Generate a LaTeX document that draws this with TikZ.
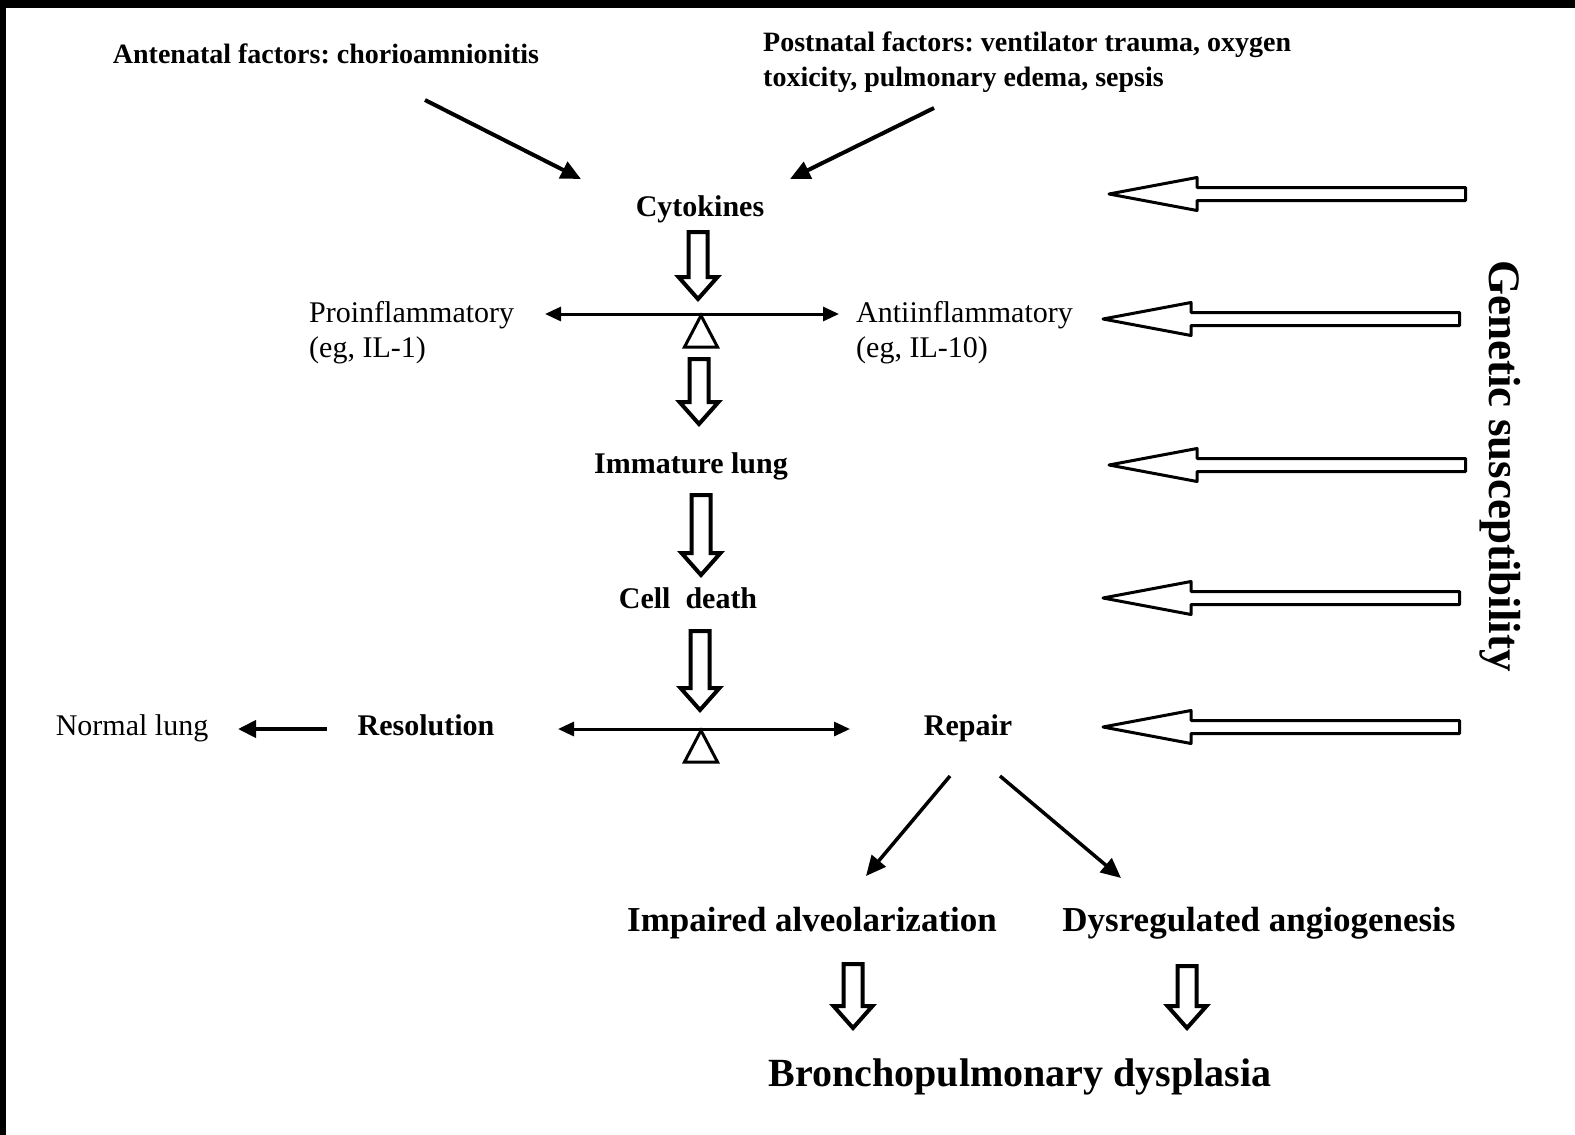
\documentclass[tikz,border=0pt]{standalone}
\usepackage{fontspec}
\setmainfont{Liberation Serif}
\usetikzlibrary{arrows.meta}
\frenchspacing
\newcommand\hdown[3]{% x, top, tip
  \draw[hollowv] (#1-9.5,#2+2) -- (#1+9.5,#2+2) -- (#1+9.5,#3-25) -- (#1+19.5,#3-25) -- (#1,#3-3) -- (#1-19.5,#3-25) -- (#1-9.5,#3-25) -- cycle;}
\newcommand\hleft[3]{% y, tip, tail
  \draw[hollowh] (#2+2,#1) -- (#2+90,#1-16.5) -- (#2+90,#1-6.5) -- (#3-1.5,#1-6.5) -- (#3-1.5,#1+6.5) -- (#2+90,#1+6.5) -- (#2+90,#1+16.5) -- cycle;}
\newcommand\fulc[2]{% apex x, apex y
  \draw[fulcrum] (#1,#2+1.5) -- (#1+16.5,#2+33) -- (#1-16.5,#2+33) -- cycle;}
\begin{document}
\begin{tikzpicture}[x=1pt,y=-1pt,
  lbl/.style={inner sep=0pt, anchor=base},
  bold30/.style={lbl, font=\fontsize{30}{34}\selectfont\bfseries},
  reg30/.style={lbl, font=\fontsize{30}{34}\selectfont},
  top28/.style={lbl, font=\fontsize{28}{34}\selectfont\bfseries},
  out35/.style={lbl, font=\fontsize{35}{40}\selectfont\bfseries},
  solidarrow/.style={line width=4pt, -{Triangle[length=20pt,width=18pt]}},
  beam/.style={line width=3pt, {Triangle[length=16pt,width=14pt]}-{Triangle[length=16pt,width=14pt]}},
  hollowv/.style={draw=black, fill=white, line width=4pt, line join=miter},
  hollowh/.style={draw=black, fill=white, line width=3pt, line join=round},
  fulcrum/.style={draw=black, fill=white, line width=3pt, line join=miter}
]
\useasboundingbox (0,0) rectangle (1575,1135);
\fill[white] (0,0) rectangle (1575,1135);
\fill[black] (0,0) rectangle (1575,8);
\fill[black] (0,0) rectangle (6,1135);

% texts
\node[top28] (ante) at (326,63) {Antenatal factors: chorioamnionitis};
\node[top28, anchor=base west] (post1) at (763,51) {Postnatal factors: ventilator trauma, oxygen};
\node[top28, anchor=base west] (post2) at (763,86) {toxicity, pulmonary edema, sepsis};
\node[bold30] (cyto) at (700,216) {Cytokines};
\node[reg30, anchor=base west] (pro1) at (309,322) {Proinflammatory};
\node[reg30, anchor=base west] (pro2) at (309,357) {(eg, IL-1)};
\node[reg30, anchor=base west] (anti1) at (856,322) {Antiinflammatory};
\node[reg30, anchor=base west] (anti2) at (856,357) {(eg, IL-10)};
\node[bold30] (imm) at (691,473) {Immature lung};
\node[bold30] (cell) at (688,608) {Cell\ \ death};
\node[bold30] (reso) at (426,735) {Resolution};
\node[reg30] (norm) at (132,735) {Normal lung};
\node[bold30] (rep) at (968,735) {Repair};
\node[out35] (imp) at (812,931) {Impaired alveolarization};
\node[out35] (dys) at (1259,931) {Dysregulated angiogenesis};
\node[lbl, font=\fontsize{40}{44}\selectfont\bfseries] (bpd) at (1020,1086) {Bronchopulmonary dysplasia};
\node[font=\fontsize{45}{50}\selectfont\bfseries, rotate=-90, inner sep=0pt] (gen) at (1500,466) {Genetic susceptibility};

% solid arrows
\coordinate (a1s) at (425,100); \coordinate (a1e) at (581,179);
\coordinate (a2s) at (934,108); \coordinate (a2e) at (790,179);
\draw[solidarrow] (a1s) -- (a1e);
\draw[solidarrow] (a2s) -- (a2e);
\coordinate (r1s) at (950,776); \coordinate (r1e) at (866,876);
\coordinate (r2s) at (1000,776); \coordinate (r2e) at (1121,878);
\draw[solidarrow, line width=3.5pt] (r1s) -- (r1e);
\draw[solidarrow, line width=3.5pt] (r2s) -- (r2e);
\coordinate (nls) at (327,729); \coordinate (nle) at (238,729);
\draw[solidarrow, -{Triangle[length=18pt,width=17pt]}] (nls) -- (nle);

% balance beams
\coordinate (b1l) at (545,314); \coordinate (b1r) at (839,314);
\draw[beam] (b1l) -- (b1r);
\fulc{701}{314}
\coordinate (b2l) at (558,729); \coordinate (b2r) at (850,729);
\draw[beam] (b2l) -- (b2r);
\fulc{701}{729}

% hollow down arrows
\hdown{698}{230}{302}
\hdown{699}{357}{427}
\hdown{701}{493}{578}
\hdown{700}{629}{713}
\hdown{853}{962}{1031}
\hdown{1187}{964}{1031}

% hollow left arrows (genetic susceptibility)
\hleft{194}{1107}{1467}
\hleft{319}{1101}{1461}
\hleft{465}{1107}{1467}
\hleft{598}{1101}{1461}
\hleft{727}{1101}{1461}
\end{tikzpicture}
\end{document}
